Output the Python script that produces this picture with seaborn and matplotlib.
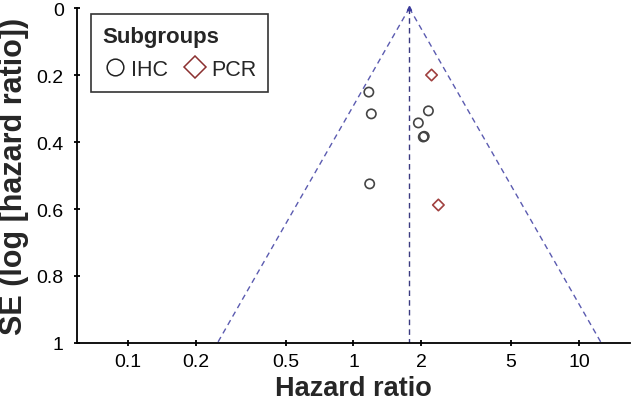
import numpy as np
import pandas as pd
import matplotlib
matplotlib.use("Agg")
import matplotlib.pyplot as plt
import seaborn as sns
from matplotlib.lines import Line2D

# ---- data ----
subgroup = ["IHC", "IHC", "IHC", "IHC", "IHC", "IHC", "IHC", "PCR", "PCR"]
hazard_ratio = [1.17, 1.20, 1.18, 2.15, 1.94, 2.04, 2.06, 2.22, 2.38]
se_log_hr = [0.251, 0.316, 0.525, 0.307, 0.343, 0.385, 0.383, 0.200, 0.588]
pooled_hr = 1.77
z_crit = 1.96
x_ticks = [0.1, 0.2, 0.5, 1, 2, 5, 10]
x_tick_labels = ["0.1", "0.2", "0.5", "1", "2", "5", "10"]
y_ticks = [0, 0.2, 0.4, 0.6, 0.8, 1]
y_tick_labels = ["0", "0.2", "0.4", "0.6", "0.8", "1"]

df = pd.DataFrame({"Subgroups": subgroup, "HR": hazard_ratio, "SE": se_log_hr})

sns.set_theme(style="ticks")
plt.rcParams["font.family"] = ["Liberation Sans", "DejaVu Sans"]

fig = plt.figure(figsize=(6.31, 4.10), dpi=100)
ax = fig.add_axes([0.122, 0.161, 0.876, 0.817])

# funnel
se_line = np.array([0.0, 1.0])
lo = np.exp(np.log(pooled_hr) - z_crit * se_line)
hi = np.exp(np.log(pooled_hr) + z_crit * se_line)
funnel_col = "#5b5bb0"
ax.plot(lo, se_line, ls=(0, (4, 3)), color=funnel_col, lw=1.0, zorder=1)
ax.plot(hi, se_line, ls=(0, (4, 3)), color=funnel_col, lw=1.0, zorder=1)
ax.plot([pooled_hr, pooled_hr], [0, 1], ls=(0, (4, 3)), color="#3a3a80", lw=1.0, zorder=1)
ax.plot([pooled_hr], [0.0], marker="^", ms=3, color="#3a3a9a", zorder=2, clip_on=False)

palette = {"IHC": "#444444", "PCR": "#a0403f"}
markers = {"IHC": "o", "PCR": "D"}
for g in ["IHC", "PCR"]:
    sub = df[df["Subgroups"] == g]
    sns.scatterplot(data=sub, x="HR", y="SE", ax=ax, marker=markers[g],
                    s=45 if g == "IHC" else 34, facecolor="none",
                    edgecolor=palette[g], linewidth=1.2, legend=False, zorder=3)

ax.set_xscale("log")
ax.set_xlim(0.0594, 16.8)
ax.set_ylim(1, 0)
ax.set_xticks(x_ticks)
ax.set_xticklabels(x_tick_labels)
ax.minorticks_off()
ax.set_yticks(y_ticks)
ax.set_yticklabels(y_tick_labels)

for s in ["top", "right"]:
    ax.spines[s].set_visible(False)
for s in ["left", "bottom"]:
    ax.spines[s].set_linewidth(1.3)
    ax.spines[s].set_color("black")
ax.tick_params(axis="both", direction="inout", length=5, width=1.3,
               labelsize=14, colors="black")
ax.tick_params(axis="x", pad=5)
ax.tick_params(axis="y", pad=7)

ax.set_xlabel("Hazard ratio", fontsize=19.5, fontweight="bold", labelpad=3)
ax.set_ylabel("SE (log [hazard ratio])", fontsize=22, fontweight="bold")
ax.yaxis.set_label_coords(-0.086, 0.5)

handles = [
    Line2D([], [], ls="none", marker="o", ms=12, mfc="none", mec="#222222", mew=1.1),
    Line2D([], [], ls="none", marker="D", ms=11.5, mfc="none", mec="#8b3030", mew=1.1),
]
leg = ax.legend(handles, ["IHC", "PCR"], title="Subgroups", ncol=2, loc="upper left",
                bbox_to_anchor=(0.0253, 0.982), borderaxespad=0, frameon=True, fancybox=False,
                edgecolor="black", fontsize=15.5, handletextpad=0.2, columnspacing=0.7,
                handlelength=1.1, borderpad=0.55, labelspacing=0.55,
                title_fontproperties={"weight": "bold", "size": 16})
leg._legend_box.align = "left"
leg.get_frame().set_linewidth(1.2)

fig.savefig("out.png", dpi=100)
